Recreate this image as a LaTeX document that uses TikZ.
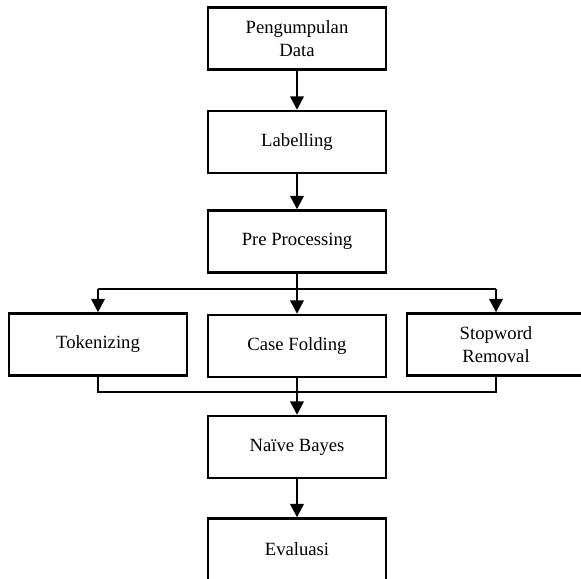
\documentclass[tikz,border=0pt]{standalone}
\usepackage{fontspec}
\setmainfont{Liberation Serif}
\usepackage{tikz}
\usetikzlibrary{arrows.meta}

\begin{document}
\begin{tikzpicture}[x=0.75pt, y=-0.75pt, line width=1.8pt,
  box/.style={draw, rectangle, minimum width=178*0.75pt, minimum height=62*0.75pt,
    align=center, inner sep=2pt, font=\fontsize{14}{17}\selectfont},
  arr/.style={-{Triangle[width=10pt, length=10pt]}}]
\useasboundingbox (0,0) rectangle (581,578);
\clip (0,0) rectangle (581,578);

\node[box] (pd) at (297,38.5) {Pengumpulan\\Data};
\node[box] (lab) at (297,142) {Labelling};
\node[box] (pre) at (297,241.5) {Pre Processing};

\node[box] (tok) at (98,344.5) {Tokenizing};
\node[box] (cf) at (297,346) {Case Folding};
\node[box] (sw) at (496,344.5) {Stopword\\Removal};

\node[box] (nb) at (297,447) {Na\"ive Bayes};
\node[box] (ev) at (297,549.5) {Evaluasi};

\coordinate (split) at (297,289);
\coordinate (join) at (297,392);

\draw[arr] (pd) -- (lab);
\draw[arr] (lab) -- (pre);

% cabang ke tiga tahap
\draw (pre.south) -- (split);
\draw (split -| tok) -- (split -| sw);
\foreach \n in {tok, cf, sw}
{
    \draw[arr] (split -| \n) -- (\n.north);
}

% gabung ke klasifikasi
\draw (tok.south) -- (join -| tok) -- (join -| sw) -- (sw.south);
\draw (cf.south) -- (join);
\draw[arr] (join) -- (nb.north);
\draw[arr] (nb) -- (ev);
\end{tikzpicture}
\end{document}
